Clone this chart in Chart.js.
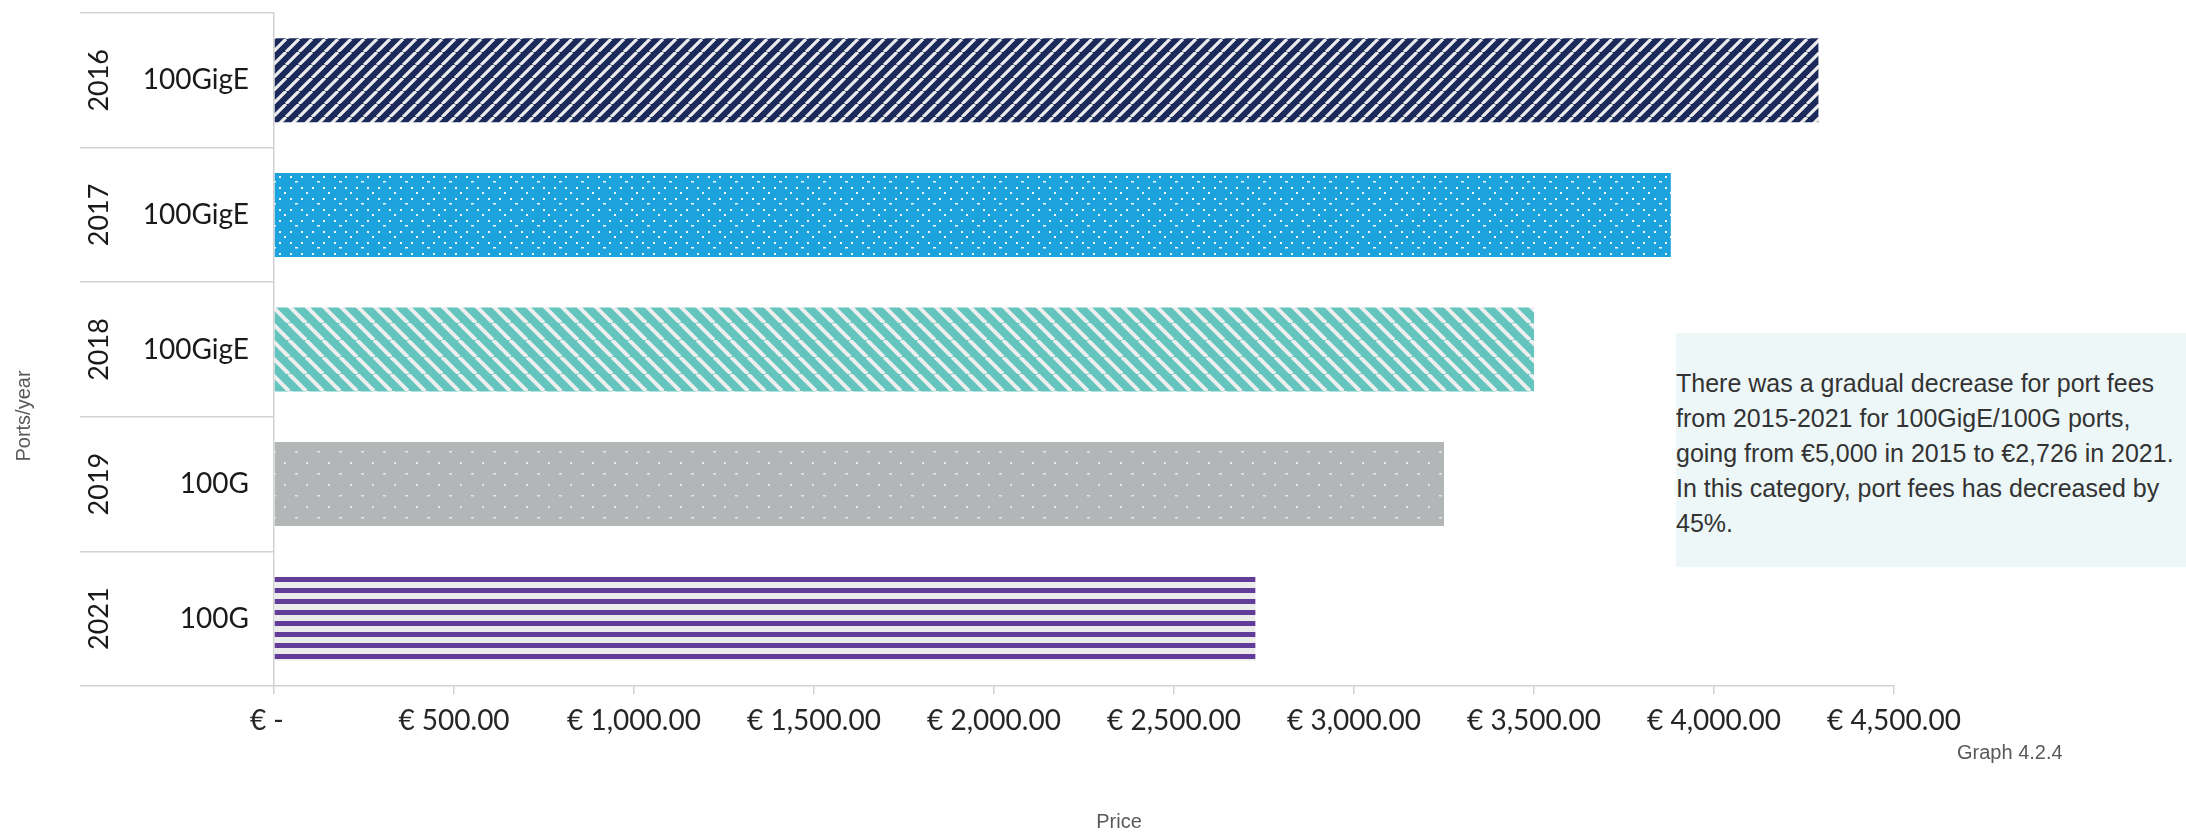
<!DOCTYPE html>
<html>
<head>
<meta charset="utf-8">
<script src="https://cdn.jsdelivr.net/npm/chart.js@4.4.1/dist/chart.umd.min.js"></script>
<style>
  body { margin: 0; background: #fff; }
  #wrap { position: relative; width: 2186px; height: 834px; }
  #note {
    position: absolute; left: 1676px; top: 333px; width: 510px; height: 234px;
    background: #eef7f8; box-sizing: border-box; padding-top: 33px;
    font-family: "Liberation Sans", Arial, sans-serif; font-size: 25px; line-height: 35px;
    color: #333; white-space: nowrap;
  }
</style>
</head>
<body>
<div id="wrap">
  <canvas id="myChart" width="2186" height="834"></canvas>
  <div id="note">There was a gradual decrease for port fees<br>from 2015-2021 for 100GigE/100G ports,<br>going from €5,000 in 2015 to €2,726 in 2021.<br>In this category, port fees has decreased by<br>45%.</div>
</div>
<script>
const years = ['2016', '2017', '2018', '2019', '2021'];
const portTypes = ['100GigE', '100GigE', '100GigE', '100G', '100G'];
const prices = [4290, 3880, 3500, 3250, 2726];
const axisMax = 4500;
const axisStep = 500;

const ctx = document.getElementById('myChart');

// bar fills: little tiles repeated like the Excel pattern fills
function stripes(bg, fg, w, h, lw, down) {
    const c = document.createElement('canvas');
    c.width = w; c.height = h;
    const g = c.getContext('2d');
    g.fillStyle = bg;
    g.fillRect(0, 0, w, h);
    g.strokeStyle = fg;
    g.lineWidth = lw;
    g.beginPath();
    for (let k = -1; k <= 1; k++) {
        if (down) {
            g.moveTo(k * w, 0); g.lineTo(k * w + w, h);
        } else {
            g.moveTo(k * w, h); g.lineTo(k * w + w, 0);
        }
    }
    g.stroke();
    return g.createPattern(c, 'repeat');
}

function dots(bg, fg, spots) {
    const c = document.createElement('canvas');
    c.width = 22; c.height = 22;
    const g = c.getContext('2d');
    g.fillStyle = bg;
    g.fillRect(0, 0, 22, 22);
    g.fillStyle = fg;
    spots.forEach(s => g.fillRect(s[0], s[1], s[2], s[3]));
    return g.createPattern(c, 'repeat');
}

function hbands(bg, fg) {
    const c = document.createElement('canvas');
    c.width = 4; c.height = 11;
    const g = c.getContext('2d');
    g.fillStyle = bg;
    g.fillRect(0, 0, 4, 11);
    g.fillStyle = fg;
    g.fillRect(0, 5, 4, 5);
    return g.createPattern(c, 'repeat');
}

const fills = [
    stripes('#1b2a5b', '#ececec', 13, 13, 3.2, false),
    dots('#1ca2dc', '#f2f9fd', [[4, 0, 2, 2], [15, 0, 2, 2], [9, 5, 3, 1.5], [4, 11, 2, 2], [15, 11, 2, 2], [20, 16, 2, 2]]),
    stripes('#63c5bd', '#eeeeee', 17, 17, 4, true),
    dots('#b3b6b7', '#e6e7e7', [[20, 0, 2, 2], [9, 11, 3, 1.5]]),
    hbands('#ececed', '#613d99')
];

const gridColor = '#d2d2d2';

const labelsPlugin = {
    id: 'labelsPlugin',
    afterDraw(chart) {
        const g = chart.ctx;
        const ys = chart.scales.y;
        g.save();
        g.fillStyle = '#1a1a1a';
        g.textBaseline = 'middle';
        years.forEach((yr, i) => {
            const py = ys.getPixelForValue(i);
            g.save();
            g.translate(99, py);
            g.rotate(-Math.PI / 2);
            g.textAlign = 'center';
            g.font = '27px Lato';
            g.fillText(yr, 0, 0);
            g.restore();
            g.textAlign = 'right';
            g.font = '28px Lato';
            g.fillText(portTypes[i], 249, py);
        });
        // axis titles
        g.font = '20px "Liberation Sans"';
        g.fillStyle = '#595959';
        g.save();
        g.translate(24, 416);
        g.rotate(-Math.PI / 2);
        g.textAlign = 'center';
        g.fillText('Ports/year', 0, 0);
        g.restore();
        g.textAlign = 'center';
        g.fillText('Price', 1119, 822);
        g.textAlign = 'left';
        g.fillText('Graph 4.2.4', 1957, 753);
        g.restore();
    }
};

const chart = new Chart(ctx, {
    type: 'bar',
    data: {
        labels: years,
        datasets: [{
            label: 'Price',
            data: prices,
            backgroundColor: fills,
            borderWidth: 0,
            barPercentage: 0.624,
            categoryPercentage: 1
        }]
    },
    options: {
        indexAxis: 'y',
        responsive: false,
        animation: false,
        devicePixelRatio: 1,
        layout: {
            padding: { top: 13, right: 292, left: 0, bottom: 0 }
        },
        plugins: {
            legend: { display: false },
            tooltip: { enabled: false }
        },
        scales: {
            x: {
                min: 0,
                max: axisMax,
                afterFit(s) { s.height = 148; },
                ticks: {
                    stepSize: axisStep,
                    color: '#262626',
                    padding: 10,
                    maxRotation: 0,
                    font: { family: 'Lato', size: 28 },
                    callback: v => v === 0 ? '€ -  ' : '€ ' + v.toLocaleString('en-US', { minimumFractionDigits: 2 })
                },
                grid: {
                    drawOnChartArea: false,
                    tickLength: 8,
                    color: gridColor,
                    lineWidth: 1.5
                },
                border: { color: gridColor, width: 1.5 }
            },
            y: {
                afterFit(s) { s.width = 274; },
                ticks: { display: false },
                grid: {
                    offset: true,
                    drawOnChartArea: false,
                    tickLength: 194,
                    color: gridColor,
                    lineWidth: 1.5
                },
                border: { color: gridColor, width: 1.5 }
            }
        }
    },
    plugins: [labelsPlugin]
});
</script>
</body>
</html>
